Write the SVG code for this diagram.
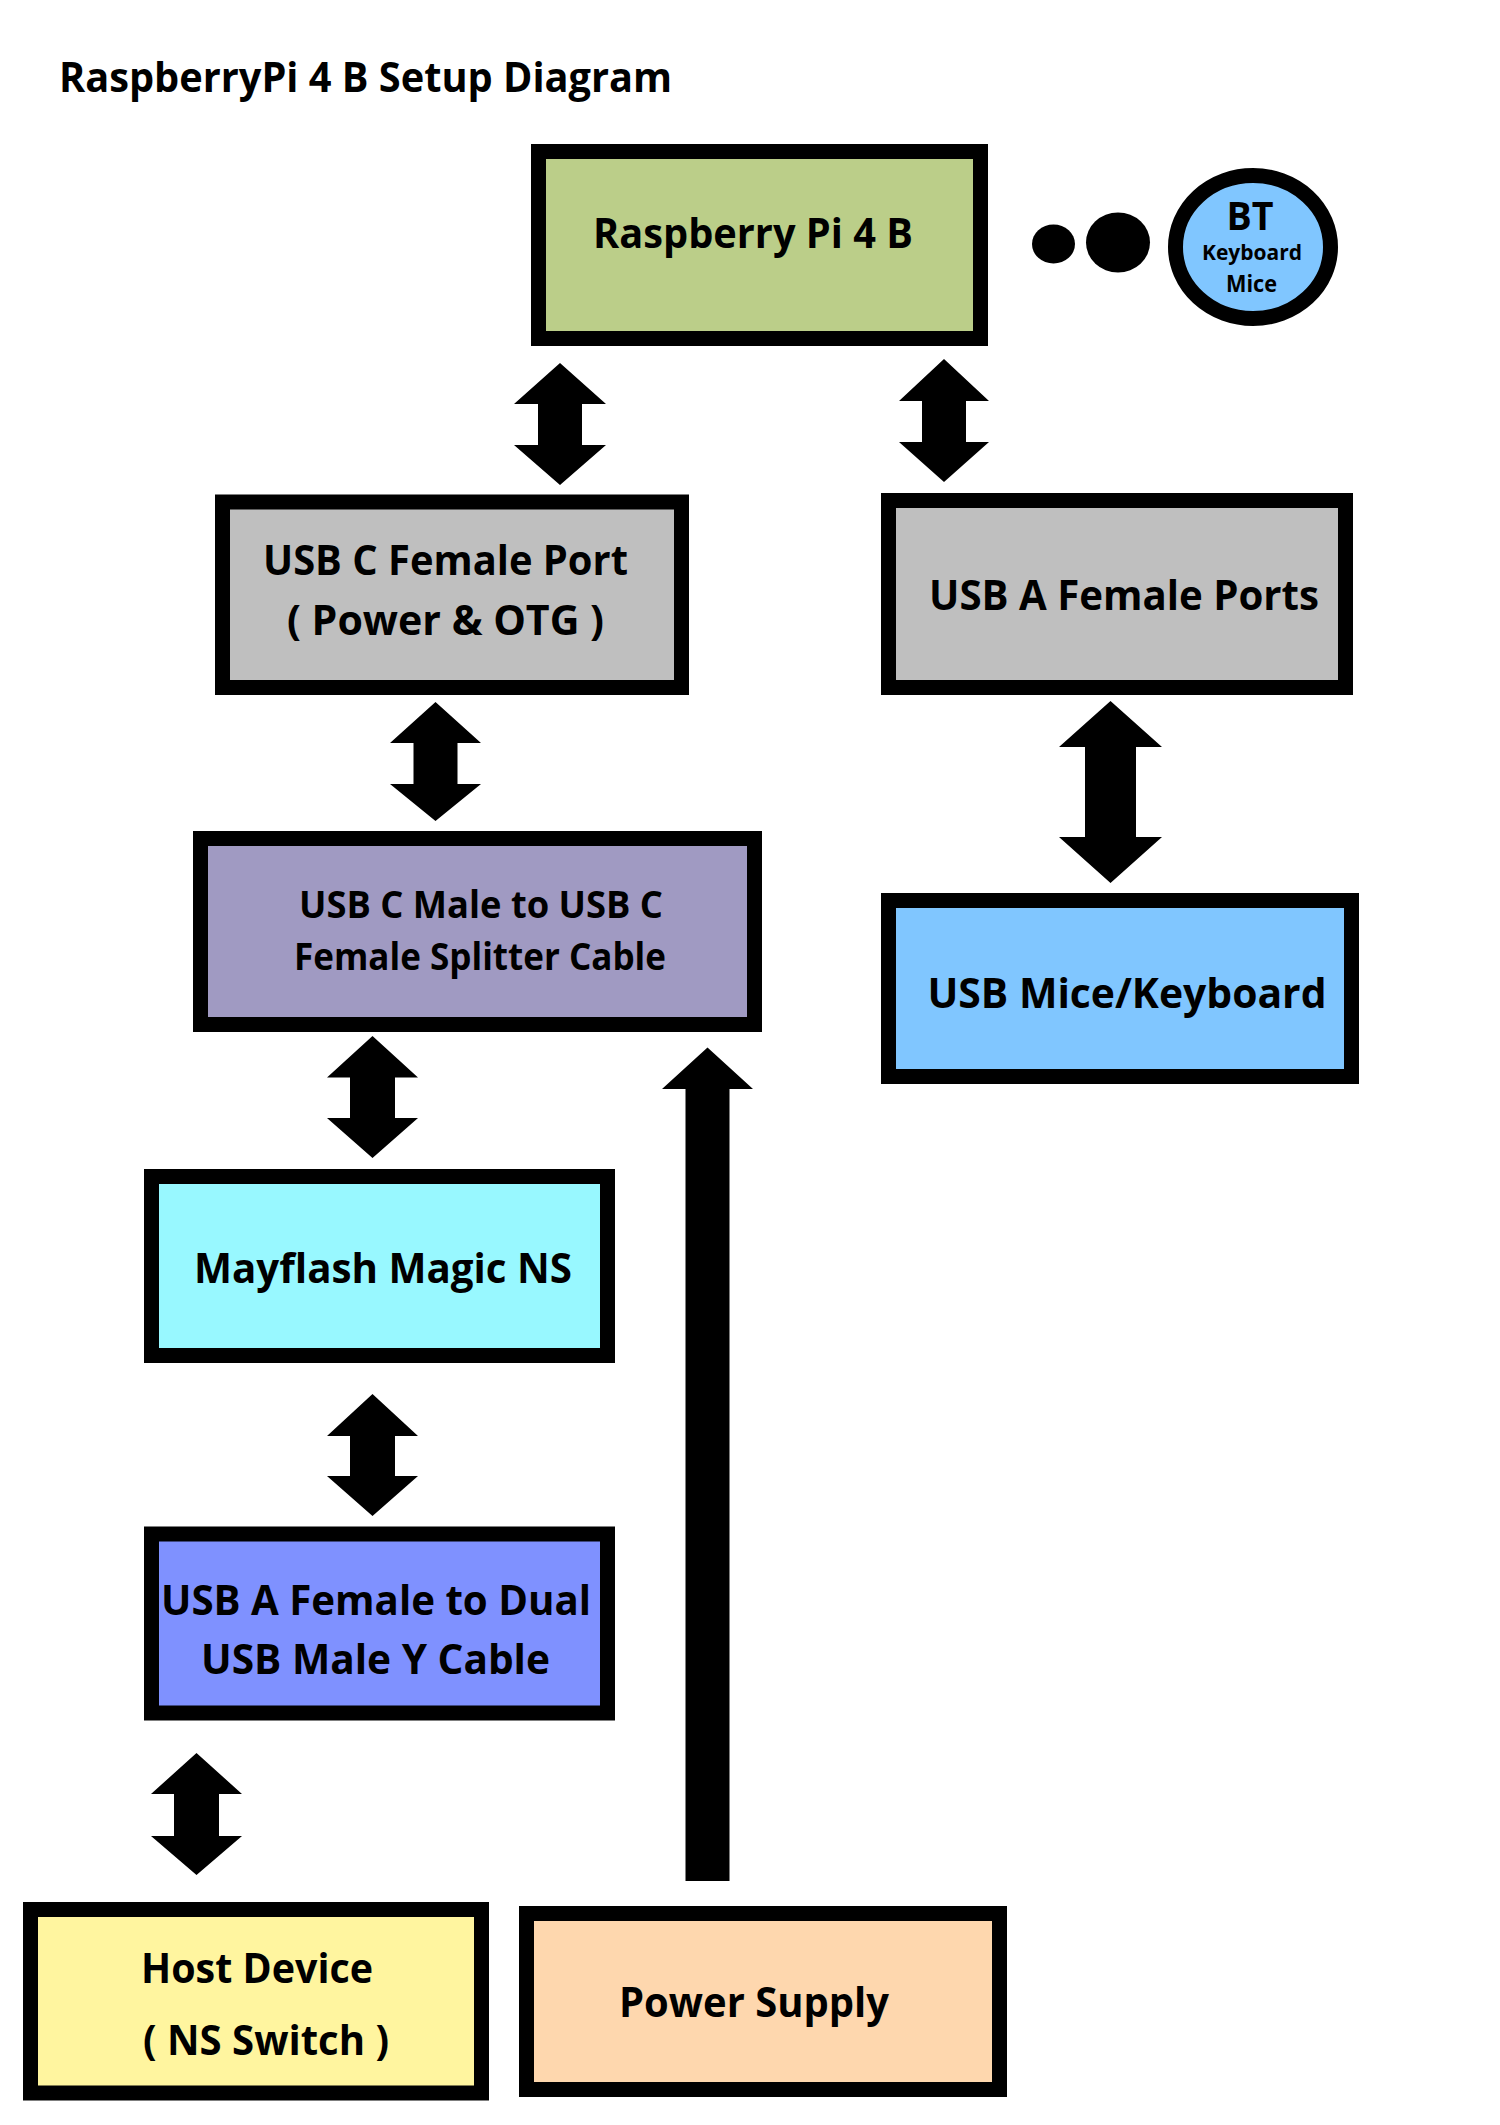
<svg xmlns="http://www.w3.org/2000/svg" width="1500" height="2125" viewBox="0 0 1500 2125">
<style>
.box{stroke:#000;stroke-width:15}
.lbl{font-family:"Open Sans","Liberation Sans",sans-serif;font-weight:bold;font-size:42px;fill:#000;text-anchor:middle}
.arr{fill:#000}
</style>
<rect width="1500" height="2125" fill="#fff"/>
<text x="59" y="92" font-family="Open Sans, Liberation Sans, sans-serif" font-weight="bold" font-size="42" textLength="613" lengthAdjust="spacingAndGlyphs">RaspberryPi 4 B Setup Diagram</text>

<g id="connectors">
<path class="arr" d="M560,363 L606,404 L582,404 L582,445 L606,445 L560,485 L514,445 L538,445 L538,404 L514,404 Z"/>
<path class="arr" d="M944,359 L989,401 L966,401 L966,442 L989,442 L944,482 L899,442 L922,442 L922,401 L899,401 Z"/>
<path class="arr" d="M435.5,702 L481,743 L457.5,743 L457.5,784 L481,784 L435.5,821 L390,784 L413.5,784 L413.5,743 L390,743 Z"/>
<path class="arr" d="M1110.5,701 L1162,747 L1136,747 L1136,837 L1162,837 L1110.5,883 L1059,837 L1085,837 L1085,747 L1059,747 Z"/>
<path class="arr" d="M372.5,1036 L418,1077.5 L395,1077.5 L395,1118 L418,1118 L372.5,1158 L327,1118 L350,1118 L350,1077.5 L327,1077.5 Z"/>
<path class="arr" d="M372.5,1394 L418,1436 L395,1436 L395,1476 L418,1476 L372.5,1516 L327,1476 L350,1476 L350,1436 L327,1436 Z"/>
<path class="arr" d="M196.5,1753 L242,1794 L219,1794 L219,1836 L242,1836 L196.5,1875 L151,1836 L174,1836 L174,1794 L151,1794 Z"/>
<path class="arr" d="M707.5,1047.5 L753,1089 L729.5,1089 L729.5,1881 L685.5,1881 L685.5,1089 L662,1089 Z"/>
</g>

<g id="raspberry-pi">
<rect class="box" x="538.5" y="151.5" width="442" height="187" fill="#BBCE89"/>
<text class="lbl" x="753" y="248" textLength="320" lengthAdjust="spacingAndGlyphs">Raspberry Pi 4 B</text>
</g>

<g id="bt-dots">
<ellipse cx="1053.5" cy="244" rx="21.5" ry="19.5" fill="#000"/>
<ellipse cx="1118" cy="242.5" rx="32" ry="30" fill="#000"/>
</g>

<g id="bt">
<ellipse class="box" cx="1253" cy="247" rx="77.5" ry="71.5" fill="#80C6FF"/>
<text class="lbl" x="1250" y="230" font-size="39" style="font-size:39px" textLength="47" lengthAdjust="spacingAndGlyphs">BT</text>
<text class="lbl" x="1252" y="260" style="font-size:22px" textLength="100" lengthAdjust="spacingAndGlyphs">Keyboard</text>
<text class="lbl" x="1251.5" y="292" style="font-size:23px" textLength="51" lengthAdjust="spacingAndGlyphs">Mice</text>
</g>

<g id="usb-c-port">
<rect class="box" x="222.5" y="502" width="459" height="185.5" fill="#BFBFBF"/>
<text class="lbl" x="445.5" y="575" textLength="365" lengthAdjust="spacingAndGlyphs">USB C Female Port</text>
<text class="lbl" x="445.5" y="635" textLength="317" lengthAdjust="spacingAndGlyphs">( Power &amp; OTG )</text>
</g>

<g id="usb-a-ports">
<rect class="box" x="888.5" y="500.5" width="457" height="187" fill="#BFBFBF"/>
<text class="lbl" x="1124" y="610" textLength="390" lengthAdjust="spacingAndGlyphs">USB A Female Ports</text>
</g>

<g id="splitter">
<rect class="box" x="200.5" y="838.5" width="554" height="186" fill="#A09AC2"/>
<text class="lbl" x="481" y="918" style="font-size:38px" textLength="364" lengthAdjust="spacingAndGlyphs">USB C Male to USB C</text>
<text class="lbl" x="480" y="970" style="font-size:38px" textLength="372" lengthAdjust="spacingAndGlyphs">Female Splitter Cable</text>
</g>

<g id="usb-mice-keyboard">
<rect class="box" x="888.5" y="900.5" width="463" height="176" fill="#80C6FF"/>
<text class="lbl" x="1127" y="1008" textLength="399" lengthAdjust="spacingAndGlyphs">USB Mice/Keyboard</text>
</g>

<g id="mayflash">
<rect class="box" x="151.5" y="1176.5" width="456" height="179" fill="#98F8FF"/>
<text class="lbl" x="383" y="1283" textLength="378" lengthAdjust="spacingAndGlyphs">Mayflash Magic NS</text>
</g>

<g id="y-cable">
<rect class="box" x="151.5" y="1534" width="456" height="179" fill="#7F91FF"/>
<text class="lbl" x="376" y="1615" textLength="430" lengthAdjust="spacingAndGlyphs">USB A Female to Dual</text>
<text class="lbl" x="375.5" y="1674" textLength="349" lengthAdjust="spacingAndGlyphs">USB Male Y Cable</text>
</g>

<g id="host-device">
<rect class="box" x="30.5" y="1909.5" width="451" height="183.5" fill="#FFF59F"/>
<text class="lbl" x="257" y="1983" textLength="232" lengthAdjust="spacingAndGlyphs">Host Device</text>
<text class="lbl" x="266" y="2055" textLength="246" lengthAdjust="spacingAndGlyphs">( NS Switch )</text>
</g>

<g id="power-supply">
<rect class="box" x="526.5" y="1913.5" width="473" height="176" fill="#FED7AE"/>
<text class="lbl" x="754" y="2017" textLength="270" lengthAdjust="spacingAndGlyphs">Power Supply</text>
</g>
</svg>
